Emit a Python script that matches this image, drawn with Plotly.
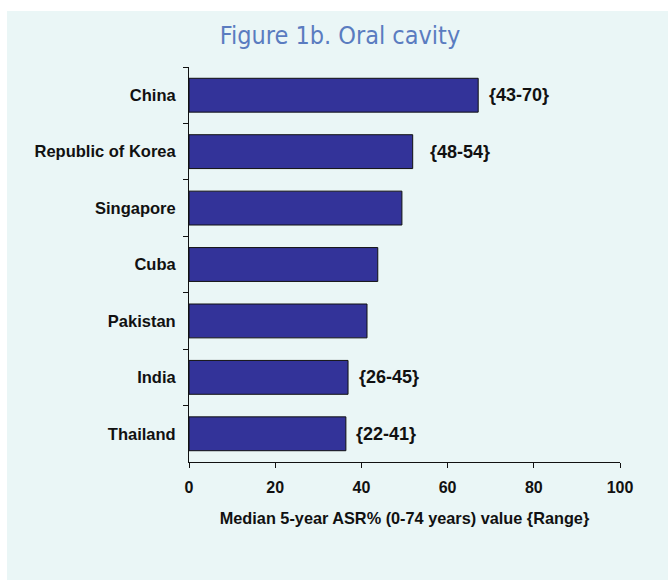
import plotly.graph_objects as go

countries = ["China", "Republic of Korea", "Singapore", "Cuba", "Pakistan", "India", "Thailand"]
median_asr = [67.1, 51.9, 49.4, 43.8, 41.3, 36.9, 36.4]
range_labels = ["{43-70}", "{48-54}", "", "", "", "{26-45}", "{22-41}"]
label_shift = [9, 15, 9, 9, 9, 9, 8]
x_ticks = [0, 20, 40, 60, 80, 100]

W, H = 668, 580
L, R, T, B = 189, 48, 67, 118
pw, ph = W - L - R, H - T - B
FONT = "Liberation Sans, Arial"
INK = "#111111"

fig = go.Figure()
fig.add_trace(go.Bar(
    y=countries, x=median_asr, orientation="h",
    marker=dict(color="#333399", line=dict(color=INK, width=1)),
    width=0.6, hoverinfo="x+y",
))

for c, v, lab, sh in zip(countries, median_asr, range_labels, label_shift):
    if lab:
        fig.add_annotation(x=v, y=c, text=lab, showarrow=False, xanchor="left",
                           xshift=sh, font=dict(family=FONT, size=18, color=INK, weight="bold"))

# background panel
fig.add_shape(type="rect", xref="paper", yref="paper", layer="below",
              x0=(7 - L) / pw, x1=(W + 20 - L) / pw,
              y0=(H - B - (H + 20)) / ph, y1=(H - B - 11) / ph,
              fillcolor="#EAF6F6", line=dict(width=0))

fig.update_layout(
    width=W, height=H,
    margin=dict(l=L, r=R, t=T, b=B),
    paper_bgcolor="white", plot_bgcolor="rgba(0,0,0,0)",
    showlegend=False,
    font=dict(family=FONT, color=INK),
    title=dict(text="Figure 1b. Oral cavity", x=340 / W, xref="container", xanchor="center",
               y=1 - 35 / H, yref="container", yanchor="middle",
               font=dict(family="DejaVu Sans Condensed", size=25, color="#5A7CC0")),
    xaxis=dict(range=[0, 100], tickvals=x_ticks, ticks="outside", ticklen=5, tickwidth=1,
               tickcolor=INK, showline=True, linecolor=INK, linewidth=1,
               showgrid=False, zeroline=False, ticklabelstandoff=6,
               tickfont=dict(size=16, color=INK, weight="bold"),
               title=dict(text="Median 5-year ASR% (0-74 years) value {Range}",
                          font=dict(size=16.3, color=INK, weight="bold"), standoff=17)),
    yaxis=dict(categoryorder="array", categoryarray=countries, autorange="reversed",
               ticks="outside", tickson="boundaries", ticklen=5, tickcolor=INK,
               showline=True, linecolor=INK, linewidth=1, showgrid=False,
               ticklabelstandoff=9,
               tickfont=dict(size=16.5, color=INK, weight="bold")),
)

fig.write_html("out.html", config={"displayModeBar": False},
               post_script="document.body.style.margin='0';document.body.style.overflow='hidden';")
